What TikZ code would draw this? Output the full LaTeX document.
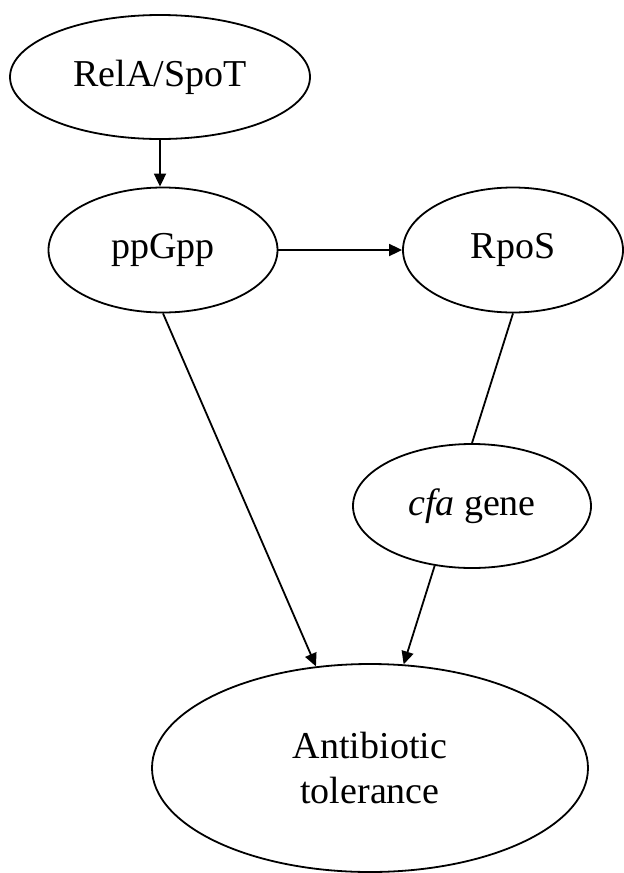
\documentclass[tikz,border=0pt]{standalone}
\usepackage{fontspec}
\setmainfont{Liberation Serif}
\usetikzlibrary{shapes.geometric,arrows.meta}

\begin{document}
\begin{tikzpicture}[x=0.5pt, y=-0.5pt,
	state/.style={ellipse, draw, line width=0.9pt, inner sep=0pt, align=center,
		font=\fontsize{19}{22.5}\selectfont},
	link/.style={line width=0.9pt},
	arr/.style={link, -{Triangle[length=6.5pt, width=6pt]}}]

	% Fix the page size
	\useasboundingbox (0,0) rectangle (623,873);

	% Draw the states
	\node[state, minimum width=150pt, minimum height=62pt] (rela) at (160,77) {RelA/SpoT};
	\node[state, minimum width=114.5pt, minimum height=62.5pt] (ppgpp) at (163,250) {ppGpp};
	\node[state, minimum width=110pt, minimum height=62.5pt] (rpos) at (513,250) {RpoS};
	\node[state, minimum width=119pt, minimum height=62pt] (cfa) at (472,506) {\textit{cfa} gene};
	\node[state, minimum width=218pt, minimum height=104pt] (tol) at (370,768) {Antibiotic\\tolerance};

	% Draw the links
	\draw[arr] (rela.south) -- (rela.south |- ppgpp.north);
	\draw[arr] (ppgpp.east) -- (rpos.west);
	\draw[arr] (ppgpp.south) -- (tol.118.6);
	\draw[link] (rpos.south) -- (cfa.north);
	\draw[arr] (cfa.238) -- (tol.72.2);

\end{tikzpicture}
\end{document}
